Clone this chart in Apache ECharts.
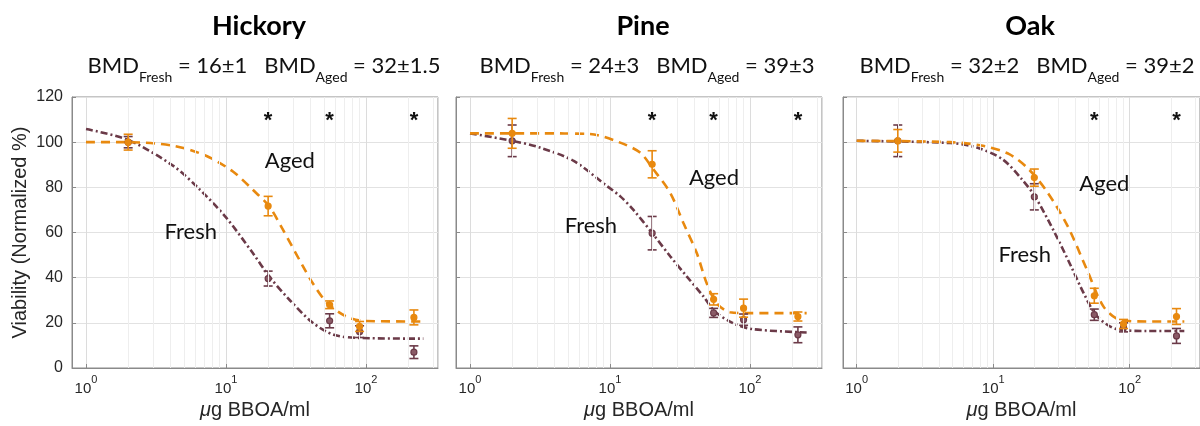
<!DOCTYPE html>
<html>
<head>
<meta charset="utf-8">
<script src="https://cdn.jsdelivr.net/npm/echarts@6/dist/echarts.min.js"></script>
<style>
  html, body { margin: 0; padding: 0; background: #ffffff; }
  #chart { width: 1200px; height: 426px; }
</style>
</head>
<body>
<div id="chart"></div>
<script>
// ---- Data -------------------------------------------------------------
const panelTitles = ['Hickory', 'Pine', 'Oak'];
const bmdFresh = ['16±1', '24±3', '32±2'];
const bmdAged = ['32±1.5', '39±3', '39±2'];

const doses = [2, 20, 55, 90, 220];           // µg BBOA/ml

const hickoryAgedMean = [100, 71.7, 28, 18.4, 22.4];
const hickoryAgedErr = [3.5, 4.3, 1.7, 2.2, 3.3];
const hickoryFreshMean = [100, 39.6, 20.9, 16.1, 7];
const hickoryFreshErr = [2.5, 3.3, 3.1, 2.6, 2.8];

const pineAgedMean = [103.9, 90.2, 30.4, 26.5, 22.8];
const pineAgedErr = [6.6, 6, 2.5, 4, 2];
const pineFreshMean = [100.6, 59.7, 24.4, 21.4, 14.7];
const pineFreshErr = [7, 7.4, 2, 2.5, 3.5];

const oakAgedMean = [100.6, 84.3, 32, 19.5, 22.8];
const oakAgedErr = [5, 3.8, 3.3, 2, 3.5];
const oakFreshMean = [100.6, 75.8, 23.6, 18, 14.2];
const oakFreshErr = [7, 5.8, 2.5, 2, 3.3];

// Fitted dose-response curves (dose, viability)
const hickoryFreshCurveX = [1, 2, 4.2, 6.5, 10, 15.5, 20.4, 28.6, 41.7, 58.9, 91.2, 257];
const hickoryFreshCurveY = [105.8, 101, 89.5, 79, 66.7, 51, 40.5, 30, 20, 14.7, 13.3, 13];
const hickoryAgedCurveX = [1, 2, 4.2, 7.2, 11.2, 15.5, 20.4, 25.1, 35.5, 41.7, 52.5, 72.4, 100, 257];
const hickoryAgedCurveY = [100, 100, 98.4, 94, 87, 79, 71.5, 62, 45, 37.5, 29, 22.8, 20.8, 20.6];

const pineFreshCurveX = [1, 2, 3.16, 5.5, 9.5, 11.8, 14.6, 20, 26.9, 35.3, 46.5, 56.2, 75.9, 104.7, 254];
const pineFreshCurveY = [103.9, 100.6, 97.6, 91.7, 80.6, 76.1, 70.2, 59.8, 49.5, 40.6, 31.7, 25, 19.8, 17.2, 15.7];
const pineAgedCurveX = [1, 3.16, 7.2, 11.7, 16.4, 20.4, 26.9, 33.4, 41.6, 49, 57.8, 72, 100, 254];
const pineAgedCurveY = [103.9, 103.9, 103.6, 99.9, 95.4, 88, 77.6, 64.3, 51, 37.6, 28.7, 24.7, 24.3, 24.3];

const oakFreshCurveX = [1, 4.85, 7.6, 11.7, 16.2, 20.3, 28.2, 37.2, 46.1, 57.5, 79.4, 132, 251];
const oakFreshCurveY = [100.6, 99.6, 97.6, 92.4, 83.6, 75.8, 59.9, 45, 33, 23, 17.3, 16.4, 16.4];
const oakAgedCurveX = [1, 4.85, 8.4, 13.1, 18.2, 25.1, 35.1, 49, 64.1, 85.1, 132, 251];
const oakAgedCurveY = [100.6, 100, 98.4, 94.7, 88, 77.6, 62.8, 43, 27.3, 21.3, 20.6, 20.6];

// Significance markers
const hickoryStars = [20, 55, 220];
const pineStars = [20, 55, 220];
const oakStars = [55, 220];
const starLevel = 111.5;

// Curve labels: [dose, viability]
const hickoryAgedTag = [28.6, 91.5];
const hickoryFreshTag = [5.6, 60.4];
const pineAgedTag = [55.3, 84];
const pineFreshTag = [7.3, 62.7];
const oakAgedTag = [65.2, 81.3];
const oakFreshTag = [17, 50];

// Axes
const xMin = 0.794, xMax = 327;
const yMin = 0, yMax = 120, yStep = 20;
const minorGridDoses = [2, 3, 4, 5, 6, 7, 8, 9, 20, 30, 40, 50, 60, 70, 80, 90, 200, 300];

// ---- Styling ------------------------------------------------------------
const ORANGE = '#E8890F';
const MAROON = '#6B3A48';
const MAROON_FILL = '#8a5a66';
const AXIS_GREY = '#8a8a8a';
const TEXT = '#262626';

const panels = [
  { agedMean: hickoryAgedMean, agedErr: hickoryAgedErr, freshMean: hickoryFreshMean, freshErr: hickoryFreshErr,
    fx: hickoryFreshCurveX, fy: hickoryFreshCurveY, ax: hickoryAgedCurveX, ay: hickoryAgedCurveY,
    stars: hickoryStars, agedTag: hickoryAgedTag, freshTag: hickoryFreshTag },
  { agedMean: pineAgedMean, agedErr: pineAgedErr, freshMean: pineFreshMean, freshErr: pineFreshErr,
    fx: pineFreshCurveX, fy: pineFreshCurveY, ax: pineAgedCurveX, ay: pineAgedCurveY,
    stars: pineStars, agedTag: pineAgedTag, freshTag: pineFreshTag },
  { agedMean: oakAgedMean, agedErr: oakAgedErr, freshMean: oakFreshMean, freshErr: oakFreshErr,
    fx: oakFreshCurveX, fy: oakFreshCurveY, ax: oakAgedCurveX, ay: oakAgedCurveY,
    stars: oakStars, agedTag: oakAgedTag, freshTag: oakFreshTag }
];

// Layout (pixels)
const gridLefts = [72, 456, 843];
const gridTop = 97, gridW = 366, gridH = 271;
const titleCenters = [259, 643, 1030];
const bmdCenters = [264, 647, 1027];

const zip = (a, b) => a.map((v, i) => [v, b[i]]);

function errorBarRenderer(color, fill) {
  return function (params, api) {
    const x = api.value(0), m = api.value(1), e = api.value(2);
    const hi = api.coord([x, m + e]);
    const lo = api.coord([x, m - e]);
    const c = api.coord([x, m]);
    const cap = 4.5;
    const stroke = { stroke: color, lineWidth: 1.6 };
    return {
      type: 'group',
      children: [
        { type: 'line', shape: { x1: hi[0], y1: hi[1], x2: lo[0], y2: lo[1] }, style: stroke },
        { type: 'line', shape: { x1: hi[0] - cap, y1: hi[1], x2: hi[0] + cap, y2: hi[1] }, style: stroke },
        { type: 'line', shape: { x1: lo[0] - cap, y1: lo[1], x2: lo[0] + cap, y2: lo[1] }, style: stroke },
        { type: 'circle', shape: { cx: c[0], cy: c[1], r: 3 }, style: { fill: fill, stroke: color, lineWidth: 1.2 } }
      ]
    };
  };
}

// plain text marks placed in data coordinates
function textRenderer(fontSize, fontWeight, dy) {
  return function (params, api) {
    const c = api.coord([api.value(0), api.value(1)]);
    return {
      type: 'text',
      x: c[0], y: c[1] + dy,
      style: {
        text: api.value(2),
        fontFamily: fontWeight === 'bold' ? 'Liberation Sans' : 'Lato',
        fontSize: fontSize, fontWeight: fontWeight,
        fill: '#111', align: 'center', verticalAlign: 'middle'
      }
    };
  };
}

const grid = [], xAxis = [], yAxis = [], series = [], title = [];

panels.forEach((p, i) => {
  const left = gridLefts[i];
  grid.push({ left: left, top: gridTop, width: gridW, height: gridH, show: true,
              borderColor: AXIS_GREY, borderWidth: 1, containLabel: false });

  xAxis.push({
    type: 'log', logBase: 10, gridIndex: i, min: xMin, max: xMax,
    axisLine: { show: true, lineStyle: { color: AXIS_GREY } },
    axisTick: { show: true, inside: true, length: 4, lineStyle: { color: AXIS_GREY } },
    splitLine: { show: true, lineStyle: { color: '#dcdcdc', width: 1 } },
    axisLabel: {
      margin: 6,
      showMinLabel: false, showMaxLabel: false,
      formatter: function (v) {
        const e = Math.round(Math.log10(v));
        if (Math.abs(Math.log10(v) - e) > 1e-6) return '';
        return '{b|10}{s|' + e + '}';
      },
      rich: {
        b: { fontFamily: 'Liberation Sans', fontSize: 15, color: TEXT, verticalAlign: 'bottom', lineHeight: 22 },
        s: { fontFamily: 'Liberation Sans', fontSize: 11, color: TEXT, verticalAlign: 'top', lineHeight: 22 }
      }
    },
    name: '{i|μ}{n|g BBOA/ml}', nameLocation: 'middle', nameGap: 30,
    nameTextStyle: {
      rich: {
        i: { fontFamily: 'Liberation Sans', fontStyle: 'italic', fontSize: 20, color: TEXT },
        n: { fontFamily: 'Liberation Sans', fontSize: 20, color: TEXT }
      }
    }
  });

  yAxis.push({
    type: 'value', gridIndex: i, min: yMin, max: yMax, interval: yStep,
    axisLine: { show: true, lineStyle: { color: AXIS_GREY } },
    axisTick: { show: true, inside: true, length: 4, lineStyle: { color: AXIS_GREY } },
    splitLine: { show: true, lineStyle: { color: '#e2e2e2', width: 1 } },
    axisLabel: { show: i === 0, fontFamily: 'Liberation Sans', fontSize: 16, color: TEXT, margin: 9 },
    name: i === 0 ? 'Viability (Normalized %)' : '',
    nameLocation: 'middle', nameGap: 42,
    nameTextStyle: { fontFamily: 'Liberation Sans', fontSize: 20, color: TEXT }
  });

  title.push({
    text: panelTitles[i], left: titleCenters[i], top: 13, textAlign: 'center', padding: 0,
    textStyle: { fontFamily: 'Lato', fontWeight: 'bold', fontSize: 27, color: '#000' }
  });
  title.push({
    text: '{m|BMD}{s|Fresh}{m| = ' + bmdFresh[i] + '   BMD}{s|Aged}{m| = ' + bmdAged[i] + '}',
    left: bmdCenters[i], top: 55, textAlign: 'center', padding: 0,
    textStyle: {
      fontWeight: 'normal',
      rich: {
        m: { fontFamily: 'Lato', fontWeight: 'normal', fontSize: 22, color: '#111', verticalAlign: 'top', lineHeight: 25 },
        s: { fontFamily: 'Lato', fontWeight: 'normal', fontSize: 14, color: '#111', verticalAlign: 'bottom', lineHeight: 29 }
      }
    }
  });

  // minor (2..9 per decade) vertical grid lines
  series.push({
    type: 'line', xAxisIndex: i, yAxisIndex: i, data: [], z: 1, silent: true,
    markLine: {
      silent: true, symbol: 'none', label: { show: false },
      lineStyle: { color: '#eeeeee', width: 1, type: 'solid' },
      data: minorGridDoses.map(v => ({ xAxis: v }))
    }
  });

  // fitted curves
  series.push({
    type: 'line', xAxisIndex: i, yAxisIndex: i, data: zip(p.fx, p.fy), z: 3,
    smooth: 0.3, showSymbol: false, silent: true,
    lineStyle: { color: MAROON, width: 2.6, type: [7, 3, 2, 3] }
  });
  series.push({
    type: 'line', xAxisIndex: i, yAxisIndex: i, data: zip(p.ax, p.ay), z: 3,
    smooth: 0.3, showSymbol: false, silent: true,
    lineStyle: { color: ORANGE, width: 2.6, type: [9, 6] }
  });

  // measured means ± error
  series.push({
    type: 'custom', xAxisIndex: i, yAxisIndex: i, z: 4, silent: true,
    data: doses.map((d, k) => [d, p.freshMean[k], p.freshErr[k]]),
    encode: { x: 0, y: 1 },
    renderItem: errorBarRenderer(MAROON, MAROON_FILL)
  });
  series.push({
    type: 'custom', xAxisIndex: i, yAxisIndex: i, z: 5, silent: true,
    data: doses.map((d, k) => [d, p.agedMean[k], p.agedErr[k]]),
    encode: { x: 0, y: 1 },
    renderItem: errorBarRenderer(ORANGE, ORANGE)
  });

  // significance asterisks
  series.push({
    type: 'custom', xAxisIndex: i, yAxisIndex: i, z: 6, silent: true,
    data: p.stars.map(d => [d, starLevel, '*']),
    encode: { x: 0, y: 1 },
    renderItem: textRenderer(22, 'bold', 5)
  });

  // curve names
  series.push({
    type: 'custom', xAxisIndex: i, yAxisIndex: i, z: 6, silent: true,
    data: [
      [p.agedTag[0], p.agedTag[1], 'Aged'],
      [p.freshTag[0], p.freshTag[1], 'Fresh']
    ],
    dimensions: ['x', 'y', 'label'],
    encode: { x: 0, y: 1 },
    renderItem: textRenderer(22, 'normal', 0)
  });
});

const chart = echarts.init(document.getElementById('chart'), null, { renderer: 'canvas' });
chart.setOption({
  animation: false,
  backgroundColor: '#ffffff',
  title: title,
  grid: grid,
  xAxis: xAxis,
  yAxis: yAxis,
  series: series
});
</script>
</body>
</html>
